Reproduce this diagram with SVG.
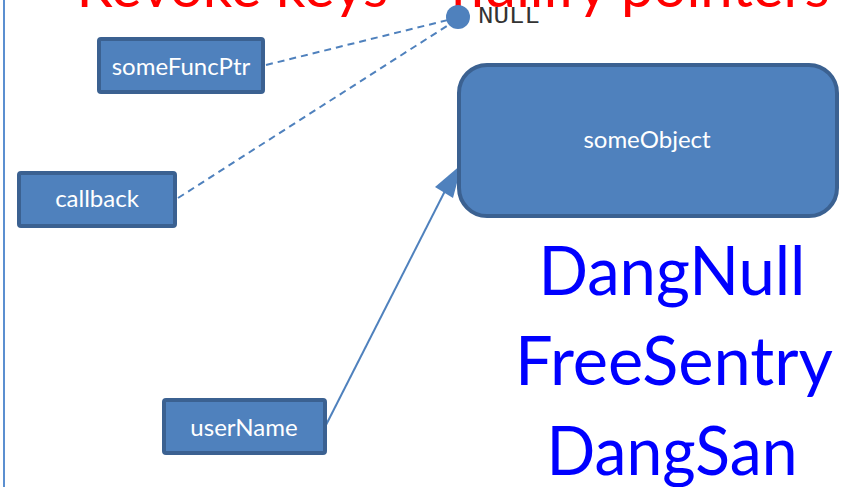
<svg xmlns="http://www.w3.org/2000/svg" width="846" height="487" viewBox="0 0 846 487">
  <style>
    .box { fill: #4F81BD; stroke: #3B6191; stroke-width: 4; }
    .lbl { font-family: Lato, "Liberation Sans", sans-serif; font-size: 24px; fill: #FFFFFF; text-anchor: middle; }
    .dash { fill: none; stroke: #4F81BD; stroke-width: 2; stroke-dasharray: 7 5; }
    .big { font-family: Lato, "Liberation Sans", sans-serif; font-size: 68px; fill: #0000FF; text-anchor: middle; }
  </style>

  <rect width="846" height="487" fill="#FFFFFF"/>
  <!-- slide edge -->
  <line x1="4" y1="0" x2="4" y2="487" stroke="#5B8FD0" stroke-width="2"/>

  <!-- title, partly above the top edge -->
  <text x="453" y="7" font-family="Lato, 'Liberation Sans', sans-serif" font-size="56" fill="#FF0000" text-anchor="middle" textLength="753" lengthAdjust="spacingAndGlyphs">Revoke keys – nullify pointers</text>

  <g id="connectors">
    <line class="dash" x1="266" y1="65" x2="448" y2="20"/>
    <line class="dash" x1="178" y1="198" x2="450" y2="24"/>
    <line x1="326" y1="425" x2="446" y2="189" stroke="#4F81BD" stroke-width="2"/>
    <polygon points="435,187 462,164 453,198" fill="#4F81BD"/>
  </g>

  <g id="null">
    <circle cx="458" cy="17" r="12" fill="#4F81BD"/>
    <text x="478" y="23" font-family="'Liberation Mono', monospace" font-size="24" fill="#333333" textLength="62" lengthAdjust="spacingAndGlyphs">NULL</text>
  </g>

  <g id="someFuncPtr">
    <rect class="box" x="99" y="39" width="164" height="53" rx="2"/>
    <text class="lbl" x="181" y="75">someFuncPtr</text>
  </g>

  <g id="callback">
    <rect class="box" x="19" y="173" width="156" height="53" rx="2"/>
    <text class="lbl" x="97" y="207">callback</text>
  </g>

  <g id="userName">
    <rect class="box" x="164" y="400" width="161" height="53" rx="2"/>
    <text class="lbl" x="244" y="436">userName</text>
  </g>

  <g id="someObject">
    <rect class="box" x="459" y="65" width="378" height="151" rx="28"/>
    <text class="lbl" x="647" y="148">someObject</text>
  </g>

  <g id="tools">
    <text class="big" x="672" y="295" textLength="267" lengthAdjust="spacingAndGlyphs">DangNull</text>
    <text class="big" x="674" y="385" textLength="318" lengthAdjust="spacingAndGlyphs">FreeSentry</text>
    <text class="big" x="672" y="475" textLength="251" lengthAdjust="spacingAndGlyphs">DangSan</text>
  </g>
</svg>
